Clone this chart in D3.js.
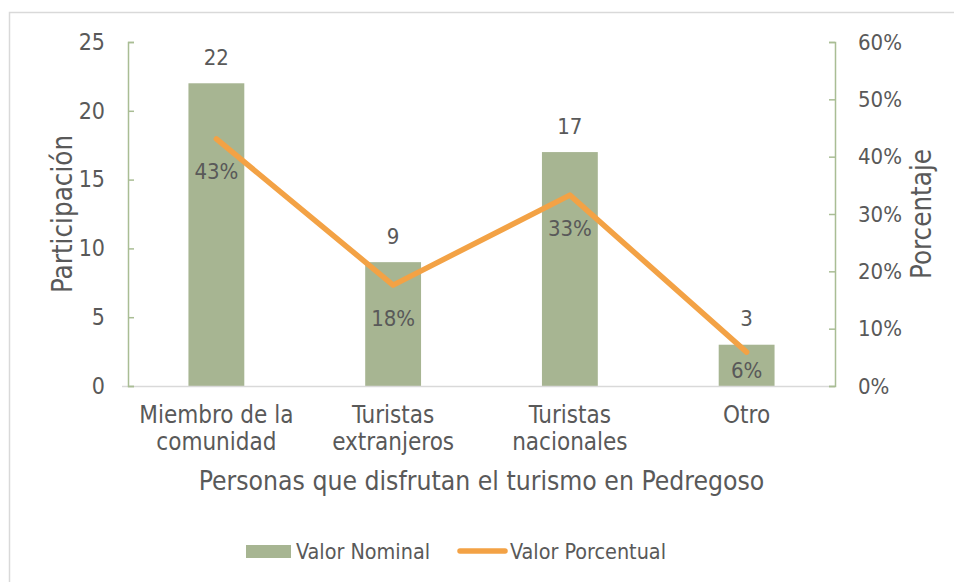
<!DOCTYPE html>
<html><head><meta charset="utf-8">
<script src="https://cdn.jsdelivr.net/npm/d3@7"></script>
<style>
html,body{margin:0;padding:0;background:#fff;}
svg{display:block;}
text{font-family:"DejaVu Sans Condensed","DejaVu Sans",sans-serif;fill:#595959;}
</style></head>
<body>
<svg id="c" width="954" height="582"></svg>
<script>
const categories = [["Miembro de la","comunidad"],["Turistas","extranjeros"],["Turistas","nacionales"],["Otro"]];
const nominal = [22, 9, 17, 3];
const percent = [0.431, 0.176, 0.333, 0.059];
const percentLabels = ["43%","18%","33%","6%"];
const leftTicks = [0,5,10,15,20,25];
const rightTicks = [0,0.1,0.2,0.3,0.4,0.5,0.6];
const xTitle = "Personas que disfrutan el turismo en Pedregoso";
const yLeftTitle = "Participación";
const yRightTitle = "Porcentaje";
const legendNames = ["Valor Nominal","Valor Porcentual"];

const svg = d3.select("#c");
const barColor = "#a7b592", lineColor = "#f3a245", axisGreen = "#a9bd94", gridGray = "#d9d9d9";
const L = 128, R = 835, T = 42, B = 386;

svg.append("rect").attr("x",9.5).attr("y",12.5).attr("width",1000).attr("height",1000)
  .attr("fill","none").attr("stroke",gridGray).attr("stroke-width",1.5);

const x = d3.scaleBand().domain(d3.range(categories.length)).range([L,R]).paddingInner(0.684).paddingOuter(0.342);
const yL = d3.scaleLinear().domain([0,25]).range([B,T]);
const yR = d3.scaleLinear().domain([0,0.6]).range([B,T]);

// bars
svg.append("g").selectAll("rect").data(nominal).join("rect")
  .attr("x",(d,i)=>x(i)).attr("width",x.bandwidth())
  .attr("y",d=>yL(d)).attr("height",d=>B-yL(d)).attr("fill",barColor);

// bottom axis line
svg.append("line").attr("x1",L-6).attr("x2",R).attr("y1",B+0.5).attr("y2",B+0.5)
  .attr("stroke",gridGray).attr("stroke-width",1.5);

// left axis
const gl = svg.append("g").attr("transform",`translate(${L},0)`)
  .call(d3.axisLeft(yL).tickValues(leftTicks).tickSize(-6).tickPadding(23).tickFormat(d3.format("d")));
gl.select(".domain").attr("stroke",axisGreen).attr("stroke-width",1.5);
gl.selectAll(".tick line").attr("stroke",axisGreen).attr("stroke-width",1.5);
gl.selectAll(".tick text").style("font-size","23px").attr("fill","#595959");

// right axis
const gr = svg.append("g").attr("transform",`translate(${R},0)`)
  .call(d3.axisRight(yR).tickValues(rightTicks).tickSize(-6).tickPadding(23).tickFormat(d3.format(".0%")));
gr.select(".domain").attr("stroke",axisGreen).attr("stroke-width",1.5);
gr.selectAll(".tick line").attr("stroke",axisGreen).attr("stroke-width",1.5);
gr.selectAll(".tick text").style("font-size","22px").attr("fill","#595959");

// line
const line = d3.line().x((d,i)=>x(i)+x.bandwidth()/2).y(d=>yR(d));
svg.append("path").datum(percent).attr("d",line).attr("fill","none")
  .attr("stroke",lineColor).attr("stroke-width",5.5).attr("stroke-linecap","round").attr("stroke-linejoin","round");

// nominal labels
svg.append("g").selectAll("text").data(nominal).join("text")
  .attr("x",(d,i)=>x(i)+x.bandwidth()/2).attr("y",d=>yL(d)-26)
  .attr("text-anchor","middle").attr("dominant-baseline","central")
  .style("font-size","22px").attr("fill","#404040").text(d=>d);

// percent labels (below the point, kept inside the plot)
svg.append("g").selectAll("text").data(percent).join("text")
  .attr("x",(d,i)=>x(i)+x.bandwidth()/2).attr("y",d=>Math.min(yR(d)+33, B-16))
  .attr("text-anchor","middle").attr("dominant-baseline","central")
  .style("font-size","22px").attr("fill","#404040").text((d,i)=>percentLabels[i]);

// category labels
const cg = svg.append("g").selectAll("text").data(categories).join("text")
  .attr("x",(d,i)=>x(i)+x.bandwidth()/2).attr("y",415)
  .attr("text-anchor","middle").style("font-size","24px");
cg.each(function(d){
  const t = d3.select(this);
  d.forEach((s,k)=>t.append("tspan").attr("x",t.attr("x")).attr("dy",k===0?"0.35em":"27px").text(s));
});

// axis titles
svg.append("text").attr("x",(L+R)/2).attr("y",481).attr("text-anchor","middle")
  .attr("dominant-baseline","central").style("font-size","26.3px").text(xTitle);
svg.append("text").attr("transform",`translate(62,${(T+B)/2}) rotate(-90)`).attr("text-anchor","middle")
  .attr("dominant-baseline","central").style("font-size","27.5px").text(yLeftTitle);
svg.append("text").attr("transform",`translate(921,${(T+B)/2}) rotate(-90)`).attr("text-anchor","middle")
  .attr("dominant-baseline","central").style("font-size","27.5px").text(yRightTitle);

// legend
const lg = svg.append("g");
lg.append("rect").attr("x",246).attr("y",545).attr("width",45).attr("height",13).attr("fill",barColor);
lg.append("text").attr("x",296).attr("y",551).attr("dominant-baseline","central").style("font-size","21.4px").text(legendNames[0]);
lg.append("line").attr("x1",460).attr("x2",505).attr("y1",551).attr("y2",551)
  .attr("stroke",lineColor).attr("stroke-width",5.5).attr("stroke-linecap","round");
lg.append("text").attr("x",510).attr("y",551).attr("dominant-baseline","central").style("font-size","21.4px").text(legendNames[1]);
</script>
</body></html>
